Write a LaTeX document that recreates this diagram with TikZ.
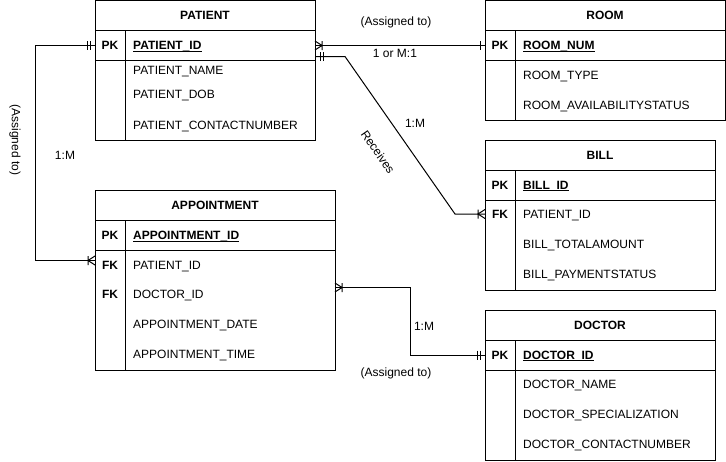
\documentclass[tikz,border=0pt]{standalone}
\usepackage{fontspec}
\setmainfont{Liberation Sans}
\usetikzlibrary{positioning}

\newcommand\erfont{\fontsize{12}{14}\selectfont}

\tikzset{
  every entity/.style={draw, anchor=north west, inner sep=0pt, outer sep=0pt, line width=1pt},
  entity head/.style={every entity, minimum height=30pt, font=\erfont\bfseries},
  entity key/.style={every entity, minimum height=30pt},
  field/.style={anchor=west, inner sep=0pt, text height=8.6pt, text depth=0pt},
  key/.style={inner sep=0pt, text height=8.6pt, text depth=0pt, font=\erfont\bfseries},
  link/.style={line width=1pt},
  rel/.style={inner sep=1pt},
  pics/mand one/.style={code={\draw[link] (-5,-4.5) -- (-5,4.5) (-8,-4.5) -- (-8,4.5);}},
  pics/just one/.style={code={\draw[link] (-5,-4.5) -- (-5,4.5);}},
  pics/one many/.style={code={\draw[link] (-7,-4.5) -- (-7,4.5) (0,-4.5) -- (-7,0) -- (0,4.5);}},
}

\begin{document}
\begin{tikzpicture}[x=1pt, y=-1pt, font=\erfont]

\useasboundingbox (0,0) rectangle (726,461);

\foreach \t/\x/\y/\w/\h/\title in {patient/95/0.5/220/80/PATIENT, room/485/0.5/240/60/ROOM,
    bill/485/140/230/90/BILL, appointment/95/190.5/240/120/APPOINTMENT, doctor/485/310/230/90/DOCTOR} {
  \node [entity head, minimum width=\w] (\t-head) at (\x,\y) {\title};
  \node [entity key, minimum width=\w] (\t-pk) at (\t-head.south west) {};
  \node [every entity, minimum width=\w, minimum height=\h] (\t-body) at (\t-pk.south west) {};
  \draw [link] ([xshift=30]\t-pk.north west) -- ([xshift=30]\t-body.south west);
}

\foreach \t/\txt in {patient/PATIENT\_ID, room/ROOM\_NUM, bill/BILL\_ID,
    appointment/APPOINTMENT\_ID, doctor/DOCTOR\_ID} {
  \node [key] (\t-pkkey) at ([xshift=15]\t-pk.west) {PK};
  \node [field, font=\erfont\bfseries] (\t-pkname) at ([xshift=38]\t-pk.west) {\txt};
  \draw [line width=0.9pt] ([yshift=-1.6]\t-pkname.base west) -- ([yshift=-1.6]\t-pkname.base east);
}

\foreach \t/\r/\dy/\txt in {
    patient/name/10/PATIENT\_NAME, patient/dob/34/PATIENT\_DOB, patient/contact/65/PATIENT\_CONTACTNUMBER,
    room/type/15/ROOM\_TYPE, room/status/45/ROOM\_AVAILABILITYSTATUS,
    bill/patientid/14/PATIENT\_ID, bill/amount/44/BILL\_TOTALAMOUNT, bill/status/74/BILL\_PAYMENTSTATUS,
    appointment/patientid/15/PATIENT\_ID, appointment/doctorid/44/DOCTOR\_ID,
    appointment/date/74/APPOINTMENT\_DATE, appointment/time/104/APPOINTMENT\_TIME,
    doctor/name/14/DOCTOR\_NAME, doctor/spec/44/DOCTOR\_SPECIALIZATION, doctor/contact/74/DOCTOR\_CONTACTNUMBER}
  \node [field] (\t-\r) at ([xshift=38, yshift=-\dy]\t-body.north west) {\txt};

\foreach \r in {bill-patientid, appointment-patientid, appointment-doctorid}
  \node [key] (\r-key) at ([xshift=-23]\r.west) {FK};

\draw [link] (patient-pk.west) pic {mand one} -- ++(-60,0)
  |- ([xshift=-38, yshift=5]appointment-patientid.west) pic {one many};

\draw [link] (patient-pk.east) pic [rotate=180] {one many} -- (room-pk.west) pic {just one};

\draw [link] ([yshift=-11]patient-pk.east) pic [rotate=180] {mand one} -- ++(30,0)
  -- ([xshift=-68]bill-patientid.west) -- ([xshift=-38]bill-patientid.west) pic {one many};

\draw [link] ([yshift=7]appointment-doctorid.west -| appointment-body.east) pic [rotate=180] {one many}
  -| ([xshift=-75]doctor-pk.west) -- (doctor-pk.west) pic {mand one};

\node [rel, rotate=-90] (assign-appt) at (15,140) {(Assigned to)};
\node [rel] (card-appt) at (65,155) {1:M};
\node [rel] (assign-room) at (396,22) {(Assigned to)};
\node [rel] (card-room) at (395,53) {1 or M:1};
\node [rel] (card-bill) at (415,123) {1:M};
\node [rel, rotate=-55.3] (verb-bill) at (378,152) {Receives};
\node [rel] (card-doctor) at (424,326) {1:M};
\node [rel] (assign-doctor) at (396,373) {(Assigned to)};

\end{tikzpicture}
\end{document}
